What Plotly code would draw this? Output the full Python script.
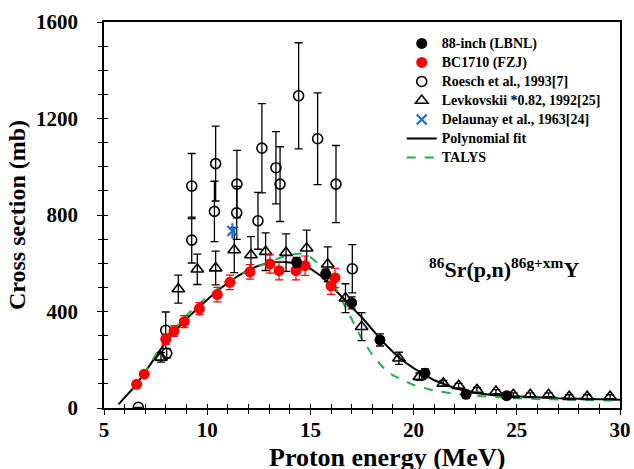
import plotly.graph_objects as go

# 88-inch (LBNL)
lbnl_x = [14.33, 15.74, 17.0, 18.37, 20.55, 22.54, 24.51]
lbnl_y = [604, 556, 436, 282, 144, 57, 51]
lbnl_e = [20, 20, 25, 25, 18, 12, 12]

# BC1710 (FZJ)
fzj_x = [6.58, 6.95, 7.99, 8.39, 8.89, 9.62, 10.49, 11.10, 12.07, 13.04, 13.48, 14.30, 14.74, 16.0, 16.19]
fzj_y = [98, 140, 285, 319, 358, 412, 470, 521, 564, 597, 569, 569, 590, 506, 539]
fzj_e = [10, 10, 22, 22, 25, 25, 30, 30, 30, 38, 38, 38, 40, 35, 40]

# Roesch et al., 1993
roe_x = [6.66, 7.99, 8.04, 9.25, 9.25, 10.35, 10.41, 11.43, 11.44, 12.46, 12.65, 13.33, 13.53, 14.43, 15.35, 16.24, 17.03]
roe_y = [3, 322, 227, 920, 696, 815, 1013, 809, 928, 776, 1077, 996, 928, 1294, 1116, 928, 577]
roe_e = [0, 76, 20, 135, 95, 125, 155, 110, 140, 118, 185, 150, 155, 220, 190, 160, 100]

# Levkovskii *0.82, 1992
lev_x = [7.76, 8.6, 9.52, 10.41, 11.31, 12.12, 12.83, 13.82, 14.82, 15.84, 16.7, 17.48, 19.29, 20.28, 21.44, 22.18, 23.07, 23.99, 24.83, 25.65, 26.54, 27.54, 28.41, 29.52]
lev_y = [210, 493, 575, 580, 655, 634, 648, 644, 662, 596, 455, 337, 206, 130, 102, 92, 75, 68, 55, 55, 55, 47, 47, 47]
lev_e = [20, 58, 63, 70, 94, 76, 78, 78, 75, 72, 60, 58, 25, 15, 12, 10, 10, 8, 8, 8, 8, 8, 8, 8]

# Delaunay et al., 1963
del_x = [11.22]
del_y = [734]

# Polynomial fit
fit_x = [5.7, 6.5, 7, 7.5, 8, 8.5, 9, 9.5, 10, 10.5, 11, 11.5, 12, 12.5, 13, 13.5, 14, 14.5, 15, 15.5, 16, 16.5, 17, 17.5, 18, 18.5, 19, 19.5, 20, 21, 22, 23, 24, 25, 26, 27, 28, 29, 30]
fit_y = [15, 90, 150, 215, 275, 325, 370, 410, 450, 487, 518, 548, 572, 590, 602, 606, 603, 596, 578, 548, 508, 462, 418, 375, 325, 275, 232, 195, 165, 115, 82, 62, 52, 47, 43, 40, 38, 36, 34]

# TALYS
tal_x = [6.4, 7, 8, 9, 10, 11, 12, 13, 13.5, 14, 14.5, 15, 15.5, 16, 16.5, 17, 17.5, 18, 18.5, 19, 20, 21, 22, 23, 24, 25, 26, 28, 30]
tal_y = [75, 150, 290, 385, 462, 522, 570, 605, 622, 635, 640, 625, 590, 535, 450, 365, 285, 220, 170, 135, 95, 72, 58, 50, 44, 40, 37, 33, 30]

FONT = "Liberation Serif"
BLUE = "#1f6fc8"


def lg(name):
    return '<span style="font-size:14px"><b>' + name + '</b></span>'


fig = go.Figure()

fig.add_trace(go.Scatter(x=fit_x, y=fit_y, mode="lines", name=lg("Polynomial fit"),
                         line=dict(color="black", width=2), legendrank=6))
fig.add_trace(go.Scatter(x=tal_x, y=tal_y, mode="lines", name=lg("TALYS"),
                         line=dict(color="#22b04b", width=2, dash="dash"), legendrank=7))

fig.add_trace(go.Scatter(x=lev_x, y=lev_y, mode="markers", name=lg("Levkovskii *0.82, 1992[25]"),
                         marker=dict(symbol="triangle-up-open", size=11, color="black", line=dict(width=1.6)),
                         error_y=dict(type="data", array=lev_e, color="black", thickness=1.3, width=4),
                         legendrank=4))
fig.add_trace(go.Scatter(x=roe_x, y=roe_y, mode="markers", name=lg("Roesch et al., 1993[7]"),
                         marker=dict(symbol="circle-open", size=10, color="black", line=dict(width=1.6)),
                         error_y=dict(type="data", array=roe_e, color="black", thickness=1.3, width=4),
                         legendrank=3))
fig.add_trace(go.Scatter(x=fzj_x, y=fzj_y, mode="markers", name=lg("BC1710 (FZJ)"),
                         marker=dict(symbol="circle", size=11, color="#ff0000"),
                         error_y=dict(type="data", array=fzj_e, color="#ff0000", thickness=1.2, width=4),
                         legendrank=2))
fig.add_trace(go.Scatter(x=lbnl_x, y=lbnl_y, mode="markers", name=lg("88-inch (LBNL)"),
                         marker=dict(symbol="circle", size=11, color="black"),
                         error_y=dict(type="data", array=lbnl_e, color="black", thickness=1.3, width=4),
                         legendrank=1))
fig.add_trace(go.Scatter(x=del_x, y=del_y, mode="markers", name=lg("Delaunay et al., 1963[24]"),
                         marker=dict(symbol="x-thin-open", size=10, color=BLUE, line=dict(width=2.2, color=BLUE)),
                         legendrank=5))
fig.add_trace(go.Scatter(x=del_x, y=del_y, mode="markers", showlegend=False, hoverinfo="skip",
                         marker=dict(symbol="line-ns-open", size=11, color=BLUE, line=dict(width=2.2, color=BLUE))))

# overlay axis for inward half of crossing ticks
fig.add_trace(go.Scatter(x=[5, 30], y=[0, 1600], mode="markers", marker=dict(opacity=0),
                         xaxis="x2", yaxis="y2", showlegend=False, hoverinfo="skip"))

fig.add_annotation(x=0.775, y=0.363, xref="paper", yref="paper", xanchor="center", yanchor="middle",
                   text="<b><sup>86</sup>Sr(p,n)<sup>86g+xm</sup>Y</b>", showarrow=False,
                   font=dict(family=FONT, size=22, color="black"))

# x-axis title
fig.add_annotation(x=0.548, y=-0.127, xref="paper", yref="paper", xanchor="center", yanchor="middle",
                   text="<b>Proton energy (MeV)</b>", showarrow=False,
                   font=dict(family=FONT, size=26, color="black"))

axis_common = dict(showgrid=False, zeroline=False, linecolor="black", linewidth=1.5,
                   ticks="outside", tickcolor="black", tickwidth=1.3, automargin=False)

fig.update_layout(
    width=634, height=469,
    margin=dict(l=104, r=14, t=22, b=61, autoexpand=False),
    paper_bgcolor="white", plot_bgcolor="white",
    font=dict(family=FONT, color="black"),
    showlegend=True,
    legend=dict(x=0.577, y=0.982, xanchor="left", yanchor="top", bgcolor="rgba(0,0,0,0)",
                font=dict(family=FONT, size=12, color="black"), tracegroupgap=0, itemwidth=30),
    xaxis=dict(range=[5, 30], dtick=5, tick0=5, ticklen=5, mirror=True, ticklabelstandoff=-3,
               minor=dict(dtick=1, ticks="outside", ticklen=4, tickcolor="black", tickwidth=1.2),
               tickfont=dict(family=FONT, size=21),
               tickprefix="<b>", ticksuffix="</b>", **axis_common),
    yaxis=dict(range=[0, 1600], dtick=400, ticklen=5, mirror=True, ticklabelstandoff=15,
               minor=dict(dtick=100, ticks="outside", ticklen=4, tickcolor="black", tickwidth=1.2),
               tickfont=dict(family=FONT, size=21),
               title=dict(text="<b>Cross section (mb)</b>", font=dict(family=FONT, size=24), standoff=4),
               tickprefix="<b>", ticksuffix="</b>", **axis_common),
    xaxis2=dict(range=[5, 30], overlaying="x", anchor="y2", side="bottom", showgrid=False, zeroline=False,
                showline=False, showticklabels=False, ticks="inside", tickcolor="black", tickwidth=1.3,
                ticklen=4, dtick=1, tick0=5),
    yaxis2=dict(range=[0, 1600], overlaying="y", anchor="x2", side="left", showgrid=False, zeroline=False,
                showline=False, showticklabels=False, ticks="inside", tickcolor="black", tickwidth=1.3,
                ticklen=4, dtick=100),
)

fig.write_html("out.html", config={"displayModeBar": False},
               post_script="document.body.style.margin='0px';document.body.style.overflow='hidden';")
